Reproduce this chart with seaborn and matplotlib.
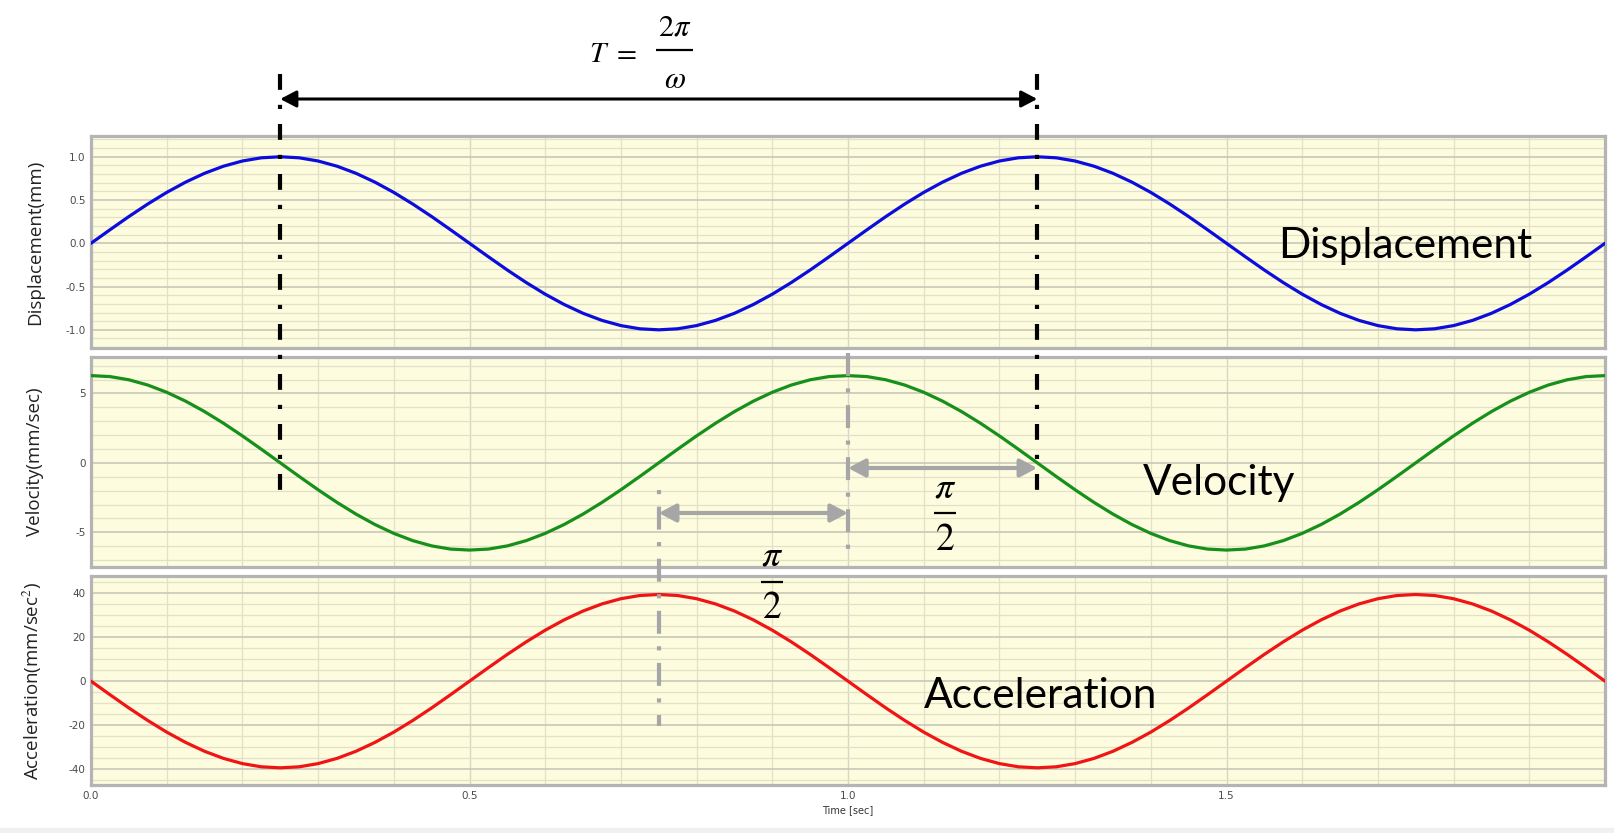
import matplotlib
matplotlib.use("Agg")
import matplotlib.pyplot as plt
import seaborn as sns
import pandas as pd
from matplotlib.ticker import MultipleLocator, FixedLocator, FormatStrFormatter
from matplotlib.patches import Rectangle

# ---------------- data ----------------
time_s = [
    0.000, 0.025, 0.050, 0.075, 0.100, 0.125, 0.150, 0.175, 0.200, 0.225,
    0.250, 0.275, 0.300, 0.325, 0.350, 0.375, 0.400, 0.425, 0.450, 0.475,
    0.500, 0.525, 0.550, 0.575, 0.600, 0.625, 0.650, 0.675, 0.700, 0.725,
    0.750, 0.775, 0.800, 0.825, 0.850, 0.875, 0.900, 0.925, 0.950, 0.975,
    1.000, 1.025, 1.050, 1.075, 1.100, 1.125, 1.150, 1.175, 1.200, 1.225,
    1.250, 1.275, 1.300, 1.325, 1.350, 1.375, 1.400, 1.425, 1.450, 1.475,
    1.500, 1.525, 1.550, 1.575, 1.600, 1.625, 1.650, 1.675, 1.700, 1.725,
    1.750, 1.775, 1.800, 1.825, 1.850, 1.875, 1.900, 1.925, 1.950, 1.975,
    2.000,
]
displacement_mm = [
    0.000, 0.156, 0.309, 0.454, 0.588, 0.707, 0.809, 0.891, 0.951, 0.988,
    1.000, 0.988, 0.951, 0.891, 0.809, 0.707, 0.588, 0.454, 0.309, 0.156,
    0.000, -0.156, -0.309, -0.454, -0.588, -0.707, -0.809, -0.891, -0.951, -0.988,
    -1.000, -0.988, -0.951, -0.891, -0.809, -0.707, -0.588, -0.454, -0.309, -0.156,
    0.000, 0.156, 0.309, 0.454, 0.588, 0.707, 0.809, 0.891, 0.951, 0.988,
    1.000, 0.988, 0.951, 0.891, 0.809, 0.707, 0.588, 0.454, 0.309, 0.156,
    0.000, -0.156, -0.309, -0.454, -0.588, -0.707, -0.809, -0.891, -0.951, -0.988,
    -1.000, -0.988, -0.951, -0.891, -0.809, -0.707, -0.588, -0.454, -0.309, -0.156,
    0.000,
]
velocity_mm_s = [
    6.28, 6.21, 5.98, 5.60, 5.08, 4.44, 3.69, 2.85, 1.94, 0.98,
    0.00, -0.98, -1.94, -2.85, -3.69, -4.44, -5.08, -5.60, -5.98, -6.21,
    -6.28, -6.21, -5.98, -5.60, -5.08, -4.44, -3.69, -2.85, -1.94, -0.98,
    0.00, 0.98, 1.94, 2.85, 3.69, 4.44, 5.08, 5.60, 5.98, 6.21,
    6.28, 6.21, 5.98, 5.60, 5.08, 4.44, 3.69, 2.85, 1.94, 0.98,
    0.00, -0.98, -1.94, -2.85, -3.69, -4.44, -5.08, -5.60, -5.98, -6.21,
    -6.28, -6.21, -5.98, -5.60, -5.08, -4.44, -3.69, -2.85, -1.94, -0.98,
    0.00, 0.98, 1.94, 2.85, 3.69, 4.44, 5.08, 5.60, 5.98, 6.21,
    6.28,
]
acceleration_mm_s2 = [
    0.00, -6.16, -12.20, -17.92, -23.21, -27.91, -31.94, -35.18, -37.55, -39.01,
    -39.48, -39.01, -37.55, -35.18, -31.94, -27.91, -23.21, -17.92, -12.20, -6.16,
    0.00, 6.16, 12.20, 17.92, 23.21, 27.91, 31.94, 35.18, 37.55, 39.01,
    39.48, 39.01, 37.55, 35.18, 31.94, 27.91, 23.21, 17.92, 12.20, 6.16,
    0.00, -6.16, -12.20, -17.92, -23.21, -27.91, -31.94, -35.18, -37.55, -39.01,
    -39.48, -39.01, -37.55, -35.18, -31.94, -27.91, -23.21, -17.92, -12.20, -6.16,
    0.00, 6.16, 12.20, 17.92, 23.21, 27.91, 31.94, 35.18, 37.55, 39.01,
    39.48, 39.01, 37.55, 35.18, 31.94, 27.91, 23.21, 17.92, 12.20, 6.16,
    0.00,
]

panel_names = ["Displacement", "Velocity", "Acceleration"]
y_labels = ["Displacement(mm)", "Velocity(mm/sec)", r"Acceleration(mm/sec$^{2}$)"]
x_ticks = [0.0, 0.5, 1.0, 1.5]
disp_ticks = [-1.0, -0.5, 0.0, 0.5, 1.0]
vel_ticks = [-5, 0, 5]
acc_ticks = [-40, -20, 0, 20, 40]
period_marks = [0.25, 1.25]        # start / end of one period T
phase_marks = [0.75, 1.0, 1.25]    # quarter-period shifts

# ---------------- styling ----------------
sns.set_theme(style="white")
plt.rcParams["font.family"] = ["Open Sans", "DejaVu Sans"]
plt.rcParams["mathtext.fontset"] = "stix"

W, H = 1614, 833
fig = plt.figure(figsize=(W / 100, H / 100), dpi=100)
fig.patch.set_facecolor("white")

left, right = 91 / W, 1605 / W
panels_px = [(136, 348), (357, 567), (576, 785)]
ylims = [(-1.21, 1.24), (-7.5, 7.62), (-47.3, 47.9)]
minor_steps = [0.1, 1, 5]
tick_sets = [disp_ticks, vel_ticks, acc_ticks]
fmts = ["%.1f", "%d", "%d"]
colors = ["#0c0cdc", "#16901a", "#f01414"]

df = pd.DataFrame({"time": time_s, "disp": displacement_mm,
                   "vel": velocity_mm_s, "acc": acceleration_mm_s2})
cols = ["disp", "vel", "acc"]

bg = "#fdfcde"
axes = []
for i in range(3):
    top, bot = panels_px[i]
    ax = fig.add_axes([left, 1 - bot / H, right - left, (bot - top) / H])
    ax.set_facecolor(bg)
    ax.set_axisbelow(True)
    sns.lineplot(data=df, x="time", y=cols[i], ax=ax, color=colors[i],
                 linewidth=2.3, zorder=3)
    ax.set_xlim(0, 2.0)
    ax.set_ylim(*ylims[i])
    ax.yaxis.set_major_locator(FixedLocator(tick_sets[i]))
    ax.yaxis.set_minor_locator(MultipleLocator(minor_steps[i]))
    ax.yaxis.set_major_formatter(FormatStrFormatter(fmts[i]))
    ax.xaxis.set_major_locator(FixedLocator(x_ticks))
    ax.xaxis.set_minor_locator(MultipleLocator(0.1))
    ax.xaxis.set_major_formatter(FormatStrFormatter("%.1f"))
    ax.grid(which="minor", axis="both", color="#e2e0c6", lw=0.9, ls="-")
    ax.grid(which="major", axis="y", color="#c9c8b8", lw=1.2, ls="-")
    ax.grid(which="major", axis="x", color="#d8d7c6", lw=1.0, ls="-")
    ax.tick_params(axis="both", which="both", length=0, pad=4,
                   labelsize=7.5, labelcolor="#4a4a4a")
    for lab in ax.get_yticklabels() + ax.get_xticklabels():
        lab.set_family("DejaVu Sans")
    for sp in ax.spines.values():
        sp.set_visible(True)
        sp.set_color("#b4b4b4")
        sp.set_linewidth(2.3)
    ax.set_ylabel(y_labels[i], fontsize=13.5, color="#222222")
    ax.yaxis.set_label_coords(-0.031, 0.5)
    if i < 2:
        ax.set_xlabel("")
        ax.tick_params(axis="x", labelbottom=False)
    else:
        ax.set_xlabel("Time [sec]", fontsize=7, family="DejaVu Sans",
                      color="#333333", labelpad=3)
    axes.append(ax)

# overlay: x in seconds, y in pixel rows
ov = fig.add_axes([left, 0, right - left, 1])
ov.set_xlim(0, 2.0)
ov.set_ylim(H, 0)
ov.axis("off")
ov.patch.set_alpha(0)

name_pos = [(1.736, 258), (1.490, 495), (1.255, 708)]
for name, (xn, yn) in zip(panel_names, name_pos):
    ov.text(xn, yn, name, fontsize=30.5, family="Lato", ha="center",
            va="baseline", color="black", zorder=10)

# period dash-dot lines (black)
for xm in period_marks:
    ov.plot([xm, xm], [74, 495], color="black", lw=3.0,
            linestyle=(0, (3.8, 3.6, 1.0, 3.6)), dash_capstyle="butt",
            solid_capstyle="butt", zorder=9)

ov.annotate("", xy=(period_marks[0], 99), xytext=(period_marks[1], 99),
            arrowprops=dict(arrowstyle="<|-|>,head_length=0.8,head_width=0.42",
                            color="black", lw=2.2, shrinkA=0, shrinkB=0),
            zorder=9)


def fraction(xc, num, den, y_num, y_bar, y_den, half_w, size):
    ov.text(xc, y_num, num, fontsize=size, ha="center", va="baseline",
            color="black")
    ov.plot([xc - half_w, xc + half_w], [y_bar, y_bar], color="black",
            lw=1.6, solid_capstyle="butt")
    ov.text(xc, y_den, den, fontsize=size, ha="center", va="baseline",
            color="black")


# T = 2*pi / omega
ov.text(0.690, 62, r"$T\ =$", fontsize=21, ha="center", va="baseline",
        color="black")
fraction(0.771, r"$2\pi$", r"$\omega$", 35, 50, 88, 0.024, 22)

# phase shift marks (gray)
gray = "#a6a6a6"
ov.plot([phase_marks[1]] * 2, [353, 558], color=gray, lw=3.0,
        linestyle=(0, (5.5, 3.0, 1.0, 3.0)), dash_capstyle="butt", zorder=8)
ov.plot([phase_marks[0]] * 2, [490, 726], color=gray, lw=3.0,
        linestyle=(0, (1.0, 3.0, 5.5, 3.0)), dash_capstyle="butt", zorder=8)

ov.annotate("", xy=(phase_marks[1], 468), xytext=(phase_marks[2], 468),
            arrowprops=dict(arrowstyle="<|-|>,head_length=0.85,head_width=0.45",
                            color=gray, lw=3.0, shrinkA=0, shrinkB=0), zorder=8)
ov.annotate("", xy=(phase_marks[0], 513), xytext=(phase_marks[1], 513),
            arrowprops=dict(arrowstyle="<|-|>,head_length=0.85,head_width=0.45",
                            color=gray, lw=3.0, shrinkA=0, shrinkB=0), zorder=8)

fraction(1.128, r"$\pi$", r"$2$", 497, 513, 550, 0.0145, 27)
fraction(0.8996, r"$\pi$", r"$2$", 565, 582, 618, 0.0145, 27)

# light gray band at the very bottom
fig.add_artist(Rectangle((0, 0), 1, 5 / H, transform=fig.transFigure,
                         color="#f0f0f0", zorder=0))

fig.savefig("out.png", dpi=100)
